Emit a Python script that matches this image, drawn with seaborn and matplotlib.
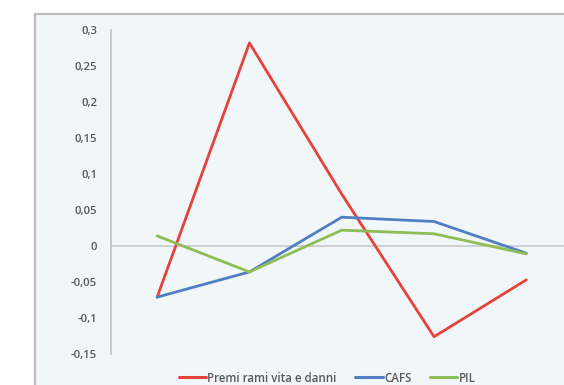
import matplotlib
matplotlib.use("Agg")
import matplotlib.pyplot as plt
from matplotlib.patches import Rectangle
import pandas as pd
import seaborn as sns

# Series values (growth rates) for five consecutive periods
periods = [1, 2, 3, 4, 5]
premi = [-0.071, 0.282, 0.072, -0.126, -0.047]
cafs = [-0.071, -0.036, 0.040, 0.034, -0.010]
pil = [0.014, -0.036, 0.022, 0.017, -0.011]

series_names = ["Premi rami vita e danni", "CAFS", "PIL"]
series_colors = ["#E5423B", "#4F7FC0", "#8DBE55"]

y_ticks = [0.3, 0.25, 0.2, 0.15, 0.1, 0.05, 0, -0.05, -0.1, -0.15]
y_tick_labels = ["0,3", "0,25", "0,2", "0,15", "0,1", "0,05", "0", "-0,05", "-0,1", "-0,15"]

df = pd.DataFrame({
    "periodo": periods * 3,
    "valore": premi + cafs + pil,
    "serie": [series_names[0]] * 5 + [series_names[1]] * 5 + [series_names[2]] * 5,
})
df["pos"] = df["periodo"] - 1

sns.set_style("white")
plt.rcParams["font.family"] = ["Open Sans", "DejaVu Sans"]

W, H = 564, 385
fig = plt.figure(figsize=(W / 100, H / 100), dpi=100)
fig.patch.set_facecolor("white")

# Light chart-area panel with a grey frame on top and left
panel = Rectangle((35 / W, -0.2), 1.2, 1.2 - 14 / H, transform=fig.transFigure,
                  facecolor="#F1F6F9", edgecolor="#BDBDBD", linewidth=1.6, zorder=-10)
fig.patches.append(panel)

ax = fig.add_axes([111 / W, 1 - 354 / H, 461.5 / W, 324 / H])
ax.set_zorder(1)
ax.patch.set_visible(False)

sns.lineplot(data=df, x="pos", y="valore", hue="serie", hue_order=series_names,
             palette=series_colors, linewidth=2.0, ax=ax, legend=False, zorder=3)

ax.set_xlim(-0.5, 4.5)
ax.set_ylim(-0.15, 0.3)
ax.set_xticks([])
ax.set_yticks(y_ticks)
ax.set_yticklabels(y_tick_labels)
ax.tick_params(axis="y", length=0, pad=10, labelsize=8.2, labelcolor="#595959")
for lbl in ax.get_yticklabels():
    lbl.set_fontweight("semibold")
ax.set_xlabel("")
ax.set_ylabel("")

for side in ["top", "right", "bottom"]:
    ax.spines[side].set_visible(False)
ax.spines["left"].set_color("#BFBFBF")
ax.spines["left"].set_linewidth(1.2)
ax.axhline(0, color="#C8C8C8", linewidth=1.2, zorder=1)

handles = [plt.Line2D([], [], color=c, linewidth=2.2) for c in series_colors]
leg = fig.legend(handles, series_names, loc="center", ncol=3,
                 bbox_to_anchor=(327 / W, 1 - 378 / H), frameon=False,
                 fontsize=8.3, handlelength=2.4, handletextpad=0.1,
                 columnspacing=1.6, borderpad=0.1)
for t in leg.get_texts():
    t.set_color("#595959")
    t.set_fontweight("semibold")

fig.savefig("out.png", dpi=100)
